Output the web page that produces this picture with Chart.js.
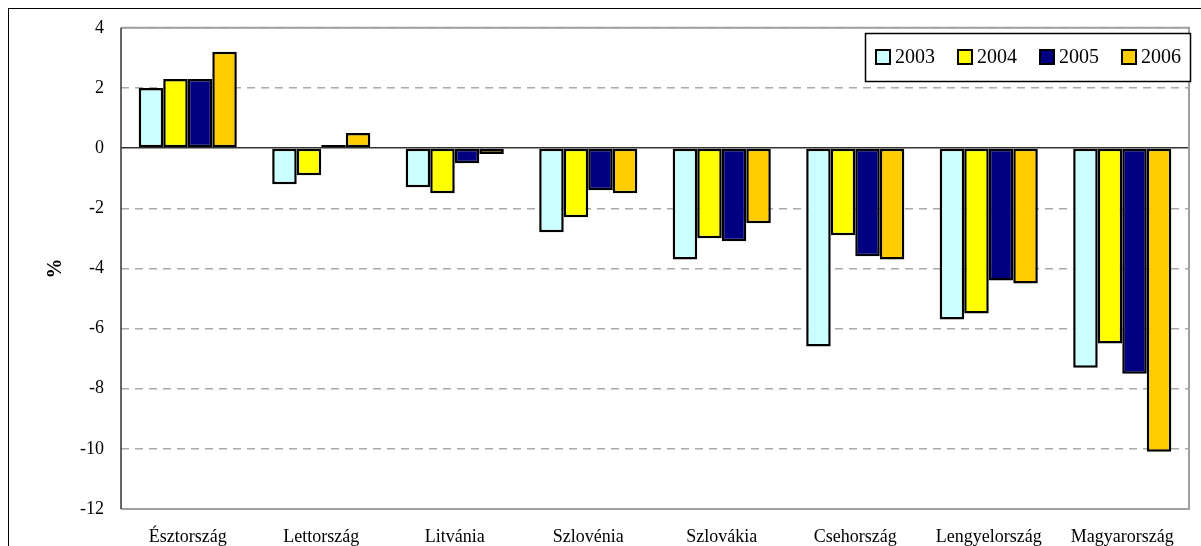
<!DOCTYPE html>
<html>
<head>
<meta charset="utf-8">
<script src="https://cdn.jsdelivr.net/npm/chart.js@4"></script>
<style>
  html, body { margin: 0; padding: 0; background: #fff; }
  #wrap { width: 1201px; height: 546px; }
</style>
</head>
<body>
<div id="wrap"><canvas id="graph" width="1201" height="546"></canvas></div>
<script>
const labels = ["Észtország","Lettország","Litvánia","Szlovénia","Szlovákia","Csehország","Lengyelország","Magyarország"];
const years = ["2003","2004","2005","2006"];
const colors = ['#CCFFFF','#FFFF00','#000080','#FFCC00'];

const v2003 = [2.0, -1.2, -1.3, -2.8, -3.7, -6.6, -5.7, -7.3];
const v2004 = [2.3, -0.9, -1.5, -2.3, -3.0, -2.9, -5.5, -6.5];
const v2005 = [2.3, 0.1, -0.5, -1.4, -3.1, -3.6, -4.4, -7.5];
const v2006 = [3.2, 0.5, -0.2, -1.5, -2.5, -3.7, -4.5, -10.1];

const yTicks = [4, 2, 0, -2, -4, -6, -8, -10, -12];

const serif = "'Liberation Serif', 'Times New Roman', serif";

// frame around the whole picture + plot area + legend box
const framePlugin = {
    id: 'frame',
    beforeDraw(chart) {
        const c = chart.ctx;
        c.save();
        c.fillStyle = '#fff';
        c.fillRect(0, 0, chart.width, chart.height);
        c.strokeStyle = '#000';
        c.lineWidth = 1;
        c.strokeRect(8.5, 8.5, chart.width + 20, chart.height + 20);
        c.restore();
    },
    afterDatasetsDraw(chart) {
        const c = chart.ctx;
        const a = chart.chartArea;
        c.save();
        c.strokeStyle = '#a0a0a0';
        c.lineWidth = 2;
        c.beginPath();
        c.moveTo(a.left, a.top); c.lineTo(a.right, a.top);
        c.lineTo(a.right, a.bottom); c.lineTo(a.left, a.bottom);
        c.stroke();
        c.strokeStyle = '#333';
        c.lineWidth = 1.5;
        c.beginPath();
        c.moveTo(a.left, a.top); c.lineTo(a.left, a.bottom);
        c.stroke();

        // legend
        const bx = 865, by = 33, bw = 325, bh = 48;
        c.fillStyle = '#fff';
        c.fillRect(bx, by, bw, bh);
        c.strokeStyle = '#000';
        c.lineWidth = 1.5;
        c.strokeRect(bx + 0.5, by + 0.5, bw, bh);
        c.font = '20px ' + serif;
        c.textBaseline = 'middle';
        c.textAlign = 'left';
        chart.data.datasets.forEach((ds, i) => {
            const x = 876 + i * 82;
            const y = 57;
            c.fillStyle = ds.backgroundColor;
            c.fillRect(x, y - 7, 14, 14);
            c.strokeStyle = '#000';
            c.lineWidth = 2;
            c.strokeRect(x, y - 7, 14, 14);
            c.fillStyle = '#000';
            c.fillText(ds.label, x + 19, y + 1);
        });
        c.restore();
    }
};

const data = {
    labels: labels,
    datasets: [v2003, v2004, v2005, v2006].map((vals, i) => ({
        label: years[i],
        data: vals,
        backgroundColor: colors[i],
        borderColor: '#000',
        borderWidth: 2.5,
        borderSkipped: false,
        categoryPercentage: 0.735,
        barPercentage: 1.0
    }))
};

const config = {
    type: 'bar',
    data: data,
    options: {
        responsive: false,
        animation: false,
        layout: { padding: { left: 44, right: 12, top: 27, bottom: 0 } },
        plugins: {
            legend: { display: false },
            tooltip: { enabled: false }
        },
        scales: {
            x: {
                grid: { display: false },
                border: { display: false },
                ticks: { color: '#000', font: { family: serif, size: 18 }, padding: 9, maxRotation: 0 },
                afterFit(s) { s.height = 37; }
            },
            y: {
                min: -12,
                max: 4,
                afterBuildTicks(s) { s.ticks = yTicks.map(v => ({ value: v })); },
                ticks: { color: '#000', font: { family: serif, size: 18 }, padding: 17 },
                grid: {
                    drawTicks: false,
                    lineWidth: 1.5,
                    color: ctx => (ctx.tick && ctx.tick.value === 0) ? '#333' : '#aaa'
                },
                border: {
                    display: false,
                    dash: ctx => (ctx.tick && ctx.tick.value !== 0) ? [8, 6] : []
                },
                title: {
                    display: true,
                    text: '%',
                    color: '#000',
                    font: { family: serif, size: 20, weight: 'bold' },
                    padding: { top: 0, bottom: 0 }
                },
                afterFit(s) { s.width = 77; }
            }
        }
    },
    plugins: [framePlugin]
};

new Chart(document.getElementById('graph'), config);
</script>
</body>
</html>
